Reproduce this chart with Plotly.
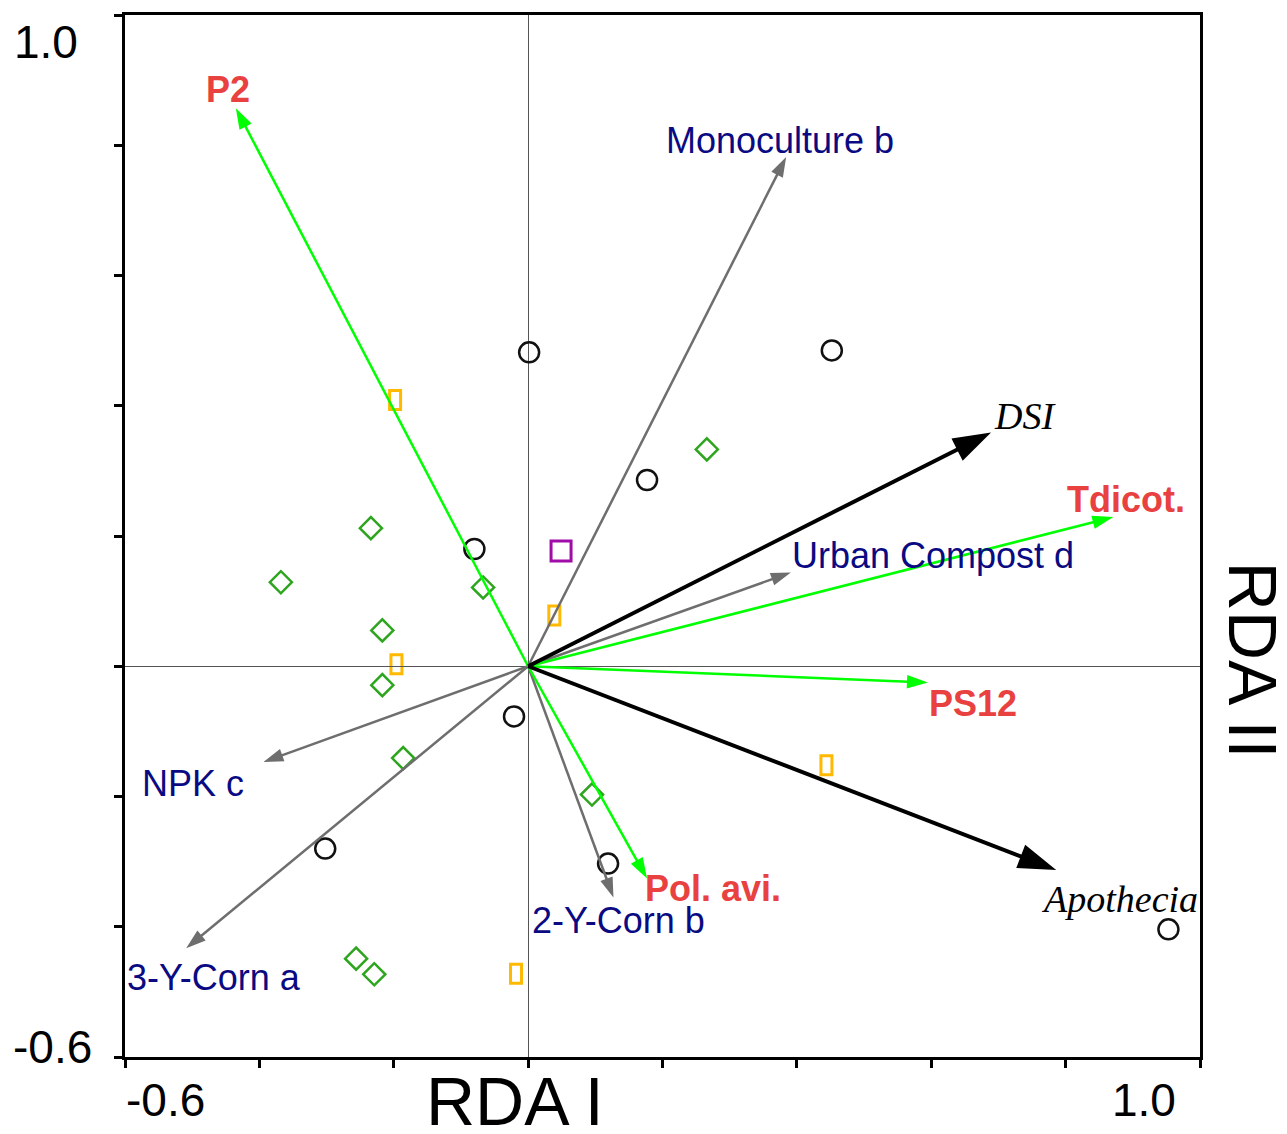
import plotly.graph_objects as go

# ---------------- data ----------------
# biplot vectors (RDA I, RDA II)
vec_names = ["P2", "Monoculture b", "DSI", "Tdicot.", "Urban Compost d", "PS12",
             "Apothecia", "Pol. avi.", "2-Y-Corn b", "NPK c", "3-Y-Corn a"]
vec_x = [-0.435, 0.384, 0.689, 0.871, 0.391, 0.595, 0.786, 0.177, 0.127, -0.394, -0.509]
vec_y = [0.857, 0.782, 0.359, 0.229, 0.144, -0.025, -0.313, -0.326, -0.355, -0.147, -0.433]
vec_kind = ["species", "treatment", "response", "species", "treatment", "species",
            "response", "species", "treatment", "treatment", "treatment"]

# label anchor positions (data units)
lab_x = [-0.4465, 0.375, 0.740, 0.890, 0.603, 0.662, 0.880, 0.275, 0.134, -0.499, -0.467]
lab_y = [0.885, 0.808, 0.384, 0.2565, 0.1705, -0.057, -0.358, -0.341, -0.390, -0.180, -0.478]

# sample scores
circle_x = [0.0015, 0.452, 0.177, -0.080, -0.021, -0.302, 0.119, 0.953]
circle_y = [0.482, 0.485, 0.286, 0.180, -0.077, -0.280, -0.303, -0.404]
diamond_x = [0.266, -0.234, -0.368, -0.067, -0.217, -0.217, -0.186, 0.095, -0.256, -0.229]
diamond_y = [0.333, 0.212, 0.129, 0.121, 0.055, -0.029, -0.141, -0.197, -0.449, -0.473]
rect_x = [-0.198, 0.039, -0.196, 0.444, -0.018]
rect_y = [0.409, 0.078, 0.003, -0.152, -0.472]
square_x = [0.049]
square_y = [0.177]

axis_ticks = [-0.6, -0.4, -0.2, 0.0, 0.2, 0.4, 0.6, 0.8, 1.0]

# ---------------- styles ----------------
style = {
    "species":   dict(color="#00FF00", width=2.5, head=22,
                      font=dict(family="Liberation Sans, Arial", size=36, color="#E8413F"), bold=True),
    "treatment": dict(color="#6E6E6E", width=2.5, head=21,
                      font=dict(family="Liberation Sans, Arial", size=36, color="#0A0A82"), bold=False),
    "response":  dict(color="#000000", width=4, head=40,
                      font=dict(family="Liberation Serif, Times New Roman", size=38, color="#000000"), bold=False),
}

fig = go.Figure()

# sample markers
fig.add_trace(go.Scatter(x=circle_x, y=circle_y, mode="markers",
                         marker=dict(symbol="circle-open", size=20, color="#111111",
                                     line=dict(width=2.5, color="#111111"))))
fig.add_trace(go.Scatter(x=diamond_x, y=diamond_y, mode="markers",
                         marker=dict(symbol="diamond-open", size=17, color="#2DA51E",
                                     line=dict(width=2.5, color="#2DA51E"))))
fig.add_trace(go.Scatter(x=square_x, y=square_y, mode="markers",
                         marker=dict(symbol="square-open", size=20, color="#A00CA8",
                                     line=dict(width=3, color="#A00CA8"))))

shapes = []
for rx, ry in zip(rect_x, rect_y):
    shapes.append(dict(type="rect", xref="x", yref="y", xsizemode="pixel", ysizemode="pixel",
                       xanchor=rx, yanchor=ry, x0=-5.5, x1=5.5, y0=-9.5, y1=9.5,
                       line=dict(color="#FFB900", width=3), layer="below"))

# arrows
order = ["treatment", "species", "response"]
for kind in order:
    st = style[kind]
    for n, vx, vy, k in zip(vec_names, vec_x, vec_y, vec_kind):
        if k != kind:
            continue
        fig.add_trace(go.Scatter(
            x=[0, vx], y=[0, vy], mode="lines+markers",
            line=dict(color=st["color"], width=st["width"]),
            marker=dict(symbol="arrow", size=[0, st["head"]], angleref="previous",
                        color=st["color"], opacity=1, line=dict(width=0)),
        ))

annotations = []
for n, k, lx, ly in zip(vec_names, vec_kind, lab_x, lab_y):
    st = style[k]
    txt = n
    if st["bold"]:
        txt = "<b>%s</b>" % n
    if k == "response":
        txt = "<i>%s</i>" % n
    annotations.append(dict(x=lx, y=ly, xref="x", yref="y", text=txt, showarrow=False,
                            xanchor="center", yanchor="middle", font=st["font"]))

tick_font = dict(family="Liberation Sans, Arial", size=46, color="#000000")
# tick labels at axis ends
annotations += [
    dict(x=-0.539, y=-0.0413, xref="x", yref="paper", text="-0.6", showarrow=False,
         xanchor="center", yanchor="middle", font=tick_font),
    dict(x=0.917, y=-0.0413, xref="x", yref="paper", text="1.0", showarrow=False,
         xanchor="center", yanchor="middle", font=tick_font),
    dict(x=-0.0735, y=0.9585, xref="paper", yref="y", text="1.0", showarrow=False,
         xanchor="center", yanchor="middle", font=tick_font),
    dict(x=-0.067, y=-0.585, xref="paper", yref="y", text="-0.6", showarrow=False,
         xanchor="center", yanchor="middle", font=tick_font),
]
title_font = dict(family="Liberation Sans, Arial", size=68, color="#000000")
annotations += [
    dict(x=0.3628, y=-0.042, xref="paper", yref="paper", text="RDA I", showarrow=False,
         xanchor="center", yanchor="middle", font=title_font),
    dict(x=1.0495, y=0.381, xref="paper", yref="paper", text="RDA II", showarrow=False,
         xanchor="center", yanchor="middle", textangle=90, font=title_font),
]

axis_common = dict(range=[-0.6, 1.0], tickmode="array", tickvals=axis_ticks,
                   showticklabels=False, ticks="outside", ticklen=8, tickwidth=3,
                   tickcolor="#000000", showline=True, linewidth=3, linecolor="#000000",
                   mirror=True, showgrid=False, zeroline=True, zerolinecolor="#555555",
                   zerolinewidth=1, fixedrange=True)

fig.update_layout(
    width=1287, height=1134,
    margin=dict(l=125, r=87, t=15, b=77),
    paper_bgcolor="white", plot_bgcolor="white",
    showlegend=False,
    xaxis=axis_common, yaxis=axis_common,
    shapes=shapes, annotations=annotations,
)

fig.write_html("out.html")
